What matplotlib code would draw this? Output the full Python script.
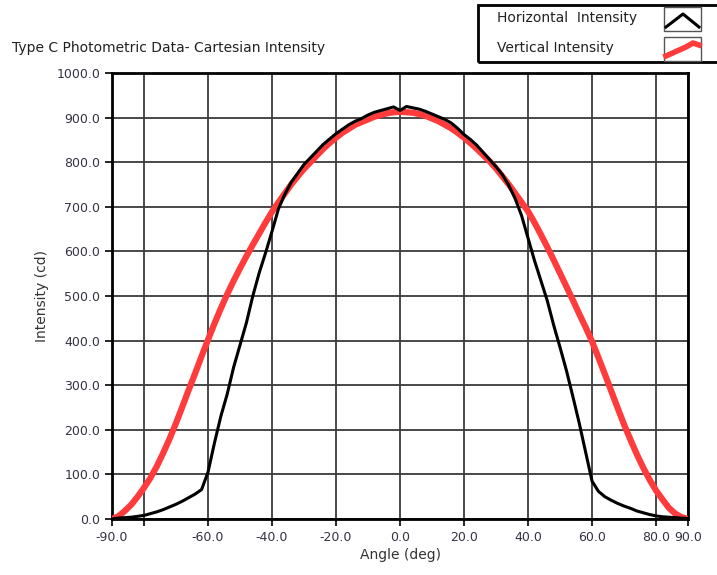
import matplotlib.pyplot as plt
from matplotlib.patches import Rectangle
from matplotlib.lines import Line2D
import numpy as np

# angle grid (deg) shared by both curves
angles = list(range(-90, 91, 2))

horizontal = [0, 2, 3, 4, 6, 8, 12, 16, 21, 27, 33, 40, 48, 56, 66,
              105, 170, 230, 280, 340, 390, 440, 500, 552, 597, 645,
              695, 728, 755, 775, 795, 810, 825, 840, 852, 864, 874,
              884, 892, 898, 906, 912, 916, 920, 924,
              916,
              925, 922, 919, 914, 908, 902, 896, 888, 876, 862, 851,
              838, 822, 806, 790, 772, 748, 718, 680, 630, 580, 535,
              490, 435, 385, 333, 275, 215, 150, 85, 62, 50, 42, 35,
              29, 24, 18, 14, 10, 7, 5, 4, 3, 2, 1]

vertical = [0, 6, 18, 32, 50, 70, 92, 118, 148, 180, 215, 252, 290,
            327, 365, 402, 438, 472, 504, 534, 562, 589, 615, 640, 665,
            689, 710, 730, 750, 768, 785, 800, 815, 830, 843, 855, 866,
            875, 884, 890, 896, 902, 906, 910, 912,
            913,
            912, 911, 908, 904, 898, 892, 884, 876, 866, 855, 843, 830,
            816, 802, 786, 768, 750, 730, 710, 690, 665, 638, 610, 581,
            551, 521, 491, 460, 430, 398, 362, 325, 287, 249, 212, 178,
            145, 115, 88, 64, 44, 25, 12, 4, 0]

x_ticks = [-90, -80, -60, -40, -20, 0, 20, 40, 60, 80, 90]
x_labels = ["-90.0", "", "-60.0", "-40.0", "-20.0", "0.0", "20.0",
            "40.0", "60.0", "80.0", "90.0"]
y_ticks = list(range(0, 1001, 100))
y_labels = ["%.1f" % v for v in y_ticks]

plt.rcParams['font.family'] = ['DejaVu Sans']

fig = plt.figure(figsize=(7.17, 5.75), dpi=100)
ax = fig.add_axes([0.1562, 0.0974, 0.8034, 0.7756])

ax.plot(angles, vertical, color='#ff3b3b', linewidth=4.5, zorder=3,
        solid_capstyle='round')
ax.plot(angles, horizontal, color='black', linewidth=2.2, zorder=4)

ax.set_xlim(-90, 90)
ax.set_ylim(0, 1000)
ax.set_xticks(x_ticks)
ax.set_xticklabels(x_labels)
ax.set_yticks(y_ticks)
ax.set_yticklabels(y_labels)
ax.tick_params(axis='both', direction='out', length=5, width=1.2,
               labelsize=9, colors='black', labelcolor='#333344')
ax.grid(True, color='#3a3a3a', linewidth=1.3)
ax.set_axisbelow(True)
for s in ax.spines.values():
    s.set_linewidth(2)
    s.set_color('black')

ax.set_xlabel("Angle (deg)", fontsize=10, color='#333333', labelpad=3)
ax.set_ylabel("Intensity (cd)", fontsize=10, color='#333333', labelpad=5)

fig.text(12 / 717, 1 - 48 / 575, "Type C Photometric Data- Cartesian Intensity",
         fontsize=10, va='center', ha='left', color='#222222')

# legend box (cut off at the right edge like the original)
fig.patches.append(Rectangle((478 / 717, 1 - 62 / 575), 300 / 717, 57 / 575,
                             transform=fig.transFigure, fill=False,
                             edgecolor='black', linewidth=2))
fig.text(497 / 717, 1 - 18 / 575, "Horizontal  Intensity", fontsize=10,
         va='center', ha='left', color='#222222')
fig.text(497 / 717, 1 - 48 / 575, "Vertical Intensity", fontsize=10,
         va='center', ha='left', color='#222222')

# small legend glyph boxes
for top in (7, 37):
    fig.patches.append(Rectangle((664 / 717, 1 - (top + 24) / 575), 37 / 717, 24 / 575,
                                 transform=fig.transFigure, fill=False,
                                 edgecolor='#555555', linewidth=1))
fig.lines.append(Line2D([666 / 717, 683 / 717, 699 / 717],
                        [1 - 27 / 575, 1 - 14 / 575, 1 - 27 / 575],
                        transform=fig.transFigure, color='black', linewidth=2.2))
fig.lines.append(Line2D([666 / 717, 686 / 717, 693 / 717, 699 / 717],
                        [1 - 56 / 575, 1 - 47 / 575, 1 - 43 / 575, 1 - 45 / 575],
                        transform=fig.transFigure, color='#ff3b3b', linewidth=4))

fig.savefig("out.png", dpi=100)
